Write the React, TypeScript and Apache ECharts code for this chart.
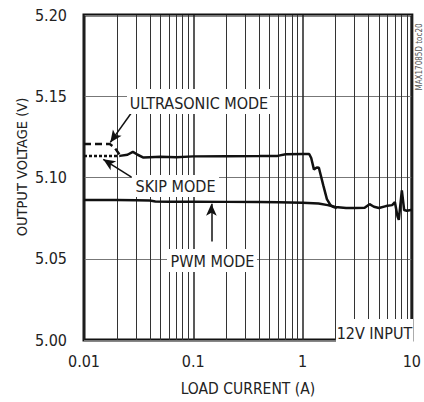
import React, { useEffect, useRef } from 'react';
import * as echarts from 'echarts';

const FONT = '"Liberation Sans Narrow", "Arial Narrow", "DejaVu Sans Condensed", sans-serif';

// Axis ranges / ticks
const xMin = 0.01;
const xMax = 10;
const yMin = 5.0;
const yMax = 5.2;
const yStep = 0.05;
const minorGridX = [0.02, 0.03, 0.04, 0.05, 0.06, 0.07, 0.08, 0.09, 0.2, 0.3, 0.4, 0.5, 0.6, 0.7, 0.8, 0.9, 2, 3, 4, 5, 6, 7, 8, 9];

// PWM mode
const pwmCurrent = [0.01, 0.02, 0.03, 0.04, 0.045, 0.06, 0.1, 0.2, 0.4, 0.6, 1.0, 1.4, 1.7, 2.0, 2.5, 3.0, 3.7, 4.1, 4.5, 5.0, 5.8, 6.6, 7.0, 7.4, 7.6, 7.9, 8.1, 8.3, 8.5, 9.0, 9.8, 10];
const pwmVoltage = [5.0861, 5.0861, 5.086, 5.0858, 5.0852, 5.0851, 5.0851, 5.085, 5.0849, 5.0848, 5.0845, 5.084, 5.083, 5.0818, 5.0812, 5.0812, 5.0814, 5.0836, 5.082, 5.0812, 5.0824, 5.083, 5.0848, 5.076, 5.0739, 5.085, 5.0921, 5.086, 5.08, 5.0795, 5.08, 5.08];

// Skip mode (light load segment, dotted)
const skipCurrent = [0.01, 0.0212];
const skipVoltage = [5.1133, 5.1133];

// Ultrasonic mode (light load segment, dashed)
const ultraCurrent = [0.01, 0.0172, 0.019, 0.0212];
const ultraVoltage = [5.1206, 5.1206, 5.1185, 5.114];

// Skip & ultrasonic modes coincide above ~20mA
const mergedCurrent = [0.0212, 0.025, 0.028, 0.031, 0.035, 0.04, 0.05, 0.07, 0.1, 0.2, 0.4, 0.59, 0.7, 1.0, 1.15, 1.2, 1.27, 1.35, 1.41, 1.55, 1.67, 1.8, 1.93, 2.06];
const mergedVoltage = [5.1133, 5.114, 5.1158, 5.114, 5.1123, 5.1125, 5.1127, 5.1125, 5.113, 5.1131, 5.1132, 5.1133, 5.1143, 5.1145, 5.1145, 5.112, 5.105, 5.1062, 5.106, 5.095, 5.0867, 5.083, 5.0818, 5.0812];

const zip = (xs: number[], ys: number[]) => xs.map((x, i) => [x, ys[i]]);

export default function App() {
  const ref = useRef<HTMLDivElement>(null);
  useEffect(() => {
    if (!ref.current) return;
    const chart = echarts.init(ref.current, undefined, { renderer: 'svg' });
    const lineW = 2.5;
    const arrowStyle = { color: '#111', width: 1.5, type: 'solid' as const };
    const box = (x: number, y: number, w: number, h: number) => ({
      type: 'rect', z: 100, shape: { x, y, width: w, height: h }, style: { fill: '#fff' }, silent: true,
    });
    const label = (text: string, x: number, y: number, size = 16) => ({
      type: 'text', z: 101, x, y, silent: true,
      style: { text, font: `${size}px ${FONT}`, fill: '#222', textAlign: 'center', textVerticalAlign: 'middle' },
    });
    chart.setOption({
      animation: false,
      backgroundColor: '#fff',
      grid: { left: 84, right: 8, top: 15, bottom: 57, show: true, borderColor: '#111', borderWidth: 3, backgroundColor: 'transparent' },
      xAxis: {
        type: 'log', logBase: 10, min: xMin, max: xMax,
        name: 'LOAD CURRENT (A)', nameLocation: 'middle', nameGap: 41,
        nameTextStyle: { fontFamily: FONT, fontSize: 15.5, color: '#222' },
        axisLine: { show: false }, axisTick: { show: false },
        axisLabel: { fontFamily: FONT, fontSize: 16, color: '#222', margin: 13, formatter: (v: number) => String(parseFloat(v.toPrecision(3))) },
        splitLine: { show: true, lineStyle: { color: '#222', width: 1.5 } },
      },
      yAxis: {
        type: 'value', min: yMin, max: yMax, interval: yStep,
        axisLine: { show: false }, axisTick: { show: false },
        axisLabel: { fontFamily: FONT, fontSize: 16, color: '#222', margin: 17, formatter: (v: number) => v.toFixed(2) },
        splitLine: { show: true, lineStyle: { color: '#777', width: 1 } },
      },
      series: [
        {
          name: 'PWM MODE', type: 'line', z: 3, symbol: 'none', data: zip(pwmCurrent, pwmVoltage),
          lineStyle: { color: '#111', width: lineW },
          markLine: {
            z: 1, silent: true, symbol: ['none', 'none'], label: { show: false },
            lineStyle: { color: '#333', width: 1, type: 'solid' },
            data: minorGridX.map((v) => ({ xAxis: v })),
          },
        },
        {
          name: 'MERGED', type: 'line', z: 3, symbol: 'none', data: zip(mergedCurrent, mergedVoltage),
          lineStyle: { color: '#111', width: lineW },
          markLine: {
            z: 6, silent: true, symbol: ['none', 'arrow'], symbolSize: [8, 12], label: { show: false },
            lineStyle: arrowStyle,
            data: [
              [{ coord: [0.0277, 5.1406] }, { coord: [0.0174, 5.1216] }],
              [{ coord: [0.0272, 5.1003] }, { coord: [0.015, 5.1112] }],
              [{ coord: [0.1465, 5.0606] }, { coord: [0.1465, 5.0838] }],
            ],
          },
        },
        {
          name: 'SKIP MODE', type: 'line', z: 3, symbol: 'none', data: zip(skipCurrent, skipVoltage),
          lineStyle: { color: '#111', width: lineW, type: [3, 2] },
        },
        {
          name: 'ULTRASONIC MODE', type: 'line', z: 3, symbol: 'none', data: zip(ultraCurrent, ultraVoltage),
          lineStyle: { color: '#111', width: lineW, type: [7, 4] },
        },
      ],
      graphic: [
        box(127, 89, 143, 25), label('ULTRASONIC MODE', 199, 103),
        box(132, 175, 87, 22), label('SKIP MODE', 175.5, 186),
        box(167, 249, 90, 23), label('PWM MODE', 212.5, 261),
        box(336, 319, 77, 24), label('12V INPUT', 374.5, 333),
        {
          type: 'text', z: 101, x: 22, y: 167, rotation: Math.PI / 2, silent: true,
          style: { text: 'OUTPUT VOLTAGE (V)', font: `14.5px ${FONT}`, fill: '#222', textAlign: 'center', textVerticalAlign: 'middle' },
        },
        {
          type: 'text', z: 101, x: 419.5, y: 57, rotation: Math.PI / 2, silent: true,
          style: { text: 'MAX17085D toc20', font: `8px ${FONT}`, fill: '#555', textAlign: 'center', textVerticalAlign: 'middle' },
        },
      ],
    });
    return () => chart.dispose();
  }, []);
  return <div ref={ref} style={{ width: 424, height: 402, position: 'absolute', left: 0, top: 0 }} />;
}
